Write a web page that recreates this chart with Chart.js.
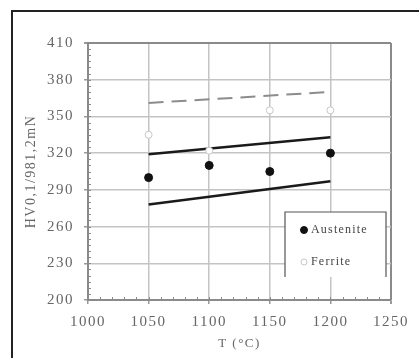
<!DOCTYPE html>
<html>
<head>
<meta charset="utf-8">
<script src="https://cdn.jsdelivr.net/npm/chart.js@4.4.1/dist/chart.umd.min.js"></script>
<style>
    html, body { margin: 0; padding: 0; background: #fff; overflow: hidden; }
    #wrap { position: relative; width: 419px; height: 358px; }
    #frame { position: absolute; left: 11px; top: 10px; width: 600px; height: 600px; border: 2px solid #222; }
    canvas { position: absolute; left: 0; top: 0; }
</style>
</head>
<body>
<div id="wrap">
    <div id="frame"></div>
    <canvas id="hvChart" width="419" height="358"></canvas>
</div>
<script>
// measured points
const temps = [1050, 1100, 1150, 1200];
const austenite = [300, 310, 305, 320];
const ferrite = [335, 322, 355, 355];

// trend / band lines (two end points each)
const lineTemps = [1050, 1200];
const upperBand = [319, 333];
const lowerBand = [278, 297];
const ferriteFit = [361, 370];

const xTicks = [1000, 1050, 1100, 1150, 1200, 1250];
const yTicks = [200, 230, 260, 290, 320, 350, 380, 410];

const pts = (xs, ys) => xs.map((x, i) => ({ x: x, y: ys[i] }));

const serif = '"Liberation Serif", "Times New Roman", serif';

// canvas letter spacing gets reset on resize, so set it every pass
const spacingPlugin = {
    id: 'spacing',
    beforeUpdate(chart) { chart.ctx.letterSpacing = '1.5px'; },
    beforeDraw(chart) { chart.ctx.letterSpacing = '1.5px'; }
};

// small inward ticks on left and bottom axes
const minorTicks = {
    id: 'minorTicks',
    afterDraw(chart) {
        const ctx = chart.ctx;
        const x = chart.scales.x, y = chart.scales.y;
        const a = chart.chartArea;
        ctx.save();
        ctx.strokeStyle = '#8a8a8a';
        ctx.lineWidth = 1;
        ctx.beginPath();
        for (let v = 200; v <= 410; v += 5) {
            const py = Math.round(y.getPixelForValue(v)) + 0.5;
            ctx.moveTo(a.left, py);
            ctx.lineTo(a.left + 3, py);
        }
        for (let v = 1000; v <= 1250; v += 10) {
            const px = Math.round(x.getPixelForValue(v)) + 0.5;
            ctx.moveTo(px, a.bottom);
            ctx.lineTo(px, a.bottom - 3);
        }
        ctx.stroke();
        ctx.restore();
    }
};

// boxed legend inside the plot area
const boxLegend = {
    id: 'boxLegend',
    afterDraw(chart) {
        const ctx = chart.ctx;
        const a = chart.chartArea;
        const left = a.right - 106, top = a.top + 169, right = a.right - 5, bottom = a.top + 234;
        ctx.save();
        ctx.fillStyle = '#fff';
        ctx.fillRect(left, top, right - left, bottom - top);
        ctx.strokeStyle = '#555';
        ctx.lineWidth = 1.2;
        ctx.beginPath();
        ctx.moveTo(left, bottom);
        ctx.lineTo(left, top);
        ctx.lineTo(right, top);
        ctx.lineTo(right, bottom);
        ctx.stroke();
        ctx.letterSpacing = '1.2px';
        ctx.font = '12px ' + serif;
        ctx.textBaseline = 'middle';
        const items = chart.data.datasets.filter(d => d.inLegend);
        items.forEach((d, i) => {
            const cy = top + 18 + i * 32;
            ctx.beginPath();
            ctx.arc(left + 19, cy, d.pointRadius - 0.5, 0, Math.PI * 2);
            ctx.fillStyle = d.pointBackgroundColor;
            ctx.fill();
            ctx.strokeStyle = d.pointBorderColor;
            ctx.lineWidth = 1;
            ctx.stroke();
            ctx.fillStyle = '#444';
            ctx.fillText(d.label, left + 26, cy);
        });
        ctx.restore();
    }
};

// outer edges of the plot are drawn darker than the inner grid
const edgeColor = (c, edge) => c.tick && c.tick.value === edge ? '#8a8a8a' : '#c4c4c4';
const edgeWidth = (c, edge) => c.tick && c.tick.value === edge ? 2 : 1.5;

const ctx = document.getElementById('hvChart').getContext('2d');

const hvChart = new Chart(ctx, {
    data: {
        datasets: [{
            type: 'scatter',
            label: 'Austenite',
            inLegend: true,
            data: pts(temps, austenite),
            pointRadius: 4,
            pointBackgroundColor: '#111',
            pointBorderColor: '#111',
            pointBorderWidth: 1
        }, {
            type: 'scatter',
            label: 'Ferrite',
            inLegend: true,
            data: pts(temps, ferrite),
            pointRadius: 3.5,
            pointBackgroundColor: '#fff',
            pointBorderColor: '#c8c8c8',
            pointBorderWidth: 1
        }, {
            type: 'line',
            label: 'upper',
            data: pts(lineTemps, upperBand),
            borderColor: '#1a1a1a',
            borderWidth: 2.5,
            pointRadius: 0
        }, {
            type: 'line',
            label: 'lower',
            data: pts(lineTemps, lowerBand),
            borderColor: '#1a1a1a',
            borderWidth: 2.5,
            pointRadius: 0
        }, {
            type: 'line',
            label: 'ferrite fit',
            data: pts(lineTemps, ferriteFit),
            borderColor: '#8c8c8c',
            borderWidth: 2,
            borderDash: [15, 8],
            pointRadius: 0
        }]
    },
    options: {
        responsive: false,
        animation: false,
        layout: { padding: { left: 14, top: 43, right: 28, bottom: 0 } },
        plugins: {
            legend: { display: false },
            tooltip: { enabled: false }
        },
        scales: {
            x: {
                type: 'linear',
                min: 1000,
                max: 1250,
                afterBuildTicks: s => { s.ticks = xTicks.map(v => ({ value: v })); },
                afterFit: s => { s.height = 58; },
                grid: {
                    color: c => edgeColor(c, 1250),
                    lineWidth: c => edgeWidth(c, 1250),
                    tickLength: 4,
                    tickColor: '#999'
                },
                border: { color: '#8a8a8a', width: 2 },
                ticks: {
                    color: '#666',
                    padding: 9,
                    maxRotation: 0,
                    font: { family: serif, size: 15 },
                    callback: v => String(v)
                },
                title: {
                    display: true,
                    text: 'T (°C)',
                    color: '#666',
                    padding: { top: 0, bottom: 7 },
                    font: { family: serif, size: 13 }
                }
            },
            y: {
                type: 'linear',
                min: 200,
                max: 410,
                afterBuildTicks: s => { s.ticks = yTicks.map(v => ({ value: v })); },
                afterFit: s => { s.width = 74; },
                grid: {
                    color: c => edgeColor(c, 410),
                    lineWidth: c => edgeWidth(c, 410),
                    tickLength: 4,
                    tickColor: '#999'
                },
                border: { color: '#8a8a8a', width: 2 },
                ticks: {
                    color: '#666',
                    padding: 10,
                    font: { family: serif, size: 15 },
                    callback: v => String(v)
                },
                title: {
                    display: true,
                    text: 'HV0,1/981,2mN',
                    color: '#666',
                    padding: { top: 9, bottom: 0 },
                    font: { family: serif, size: 14 }
                }
            }
        }
    },
    plugins: [spacingPlugin, minorTicks, boxLegend]
});
</script>
</body>
</html>
